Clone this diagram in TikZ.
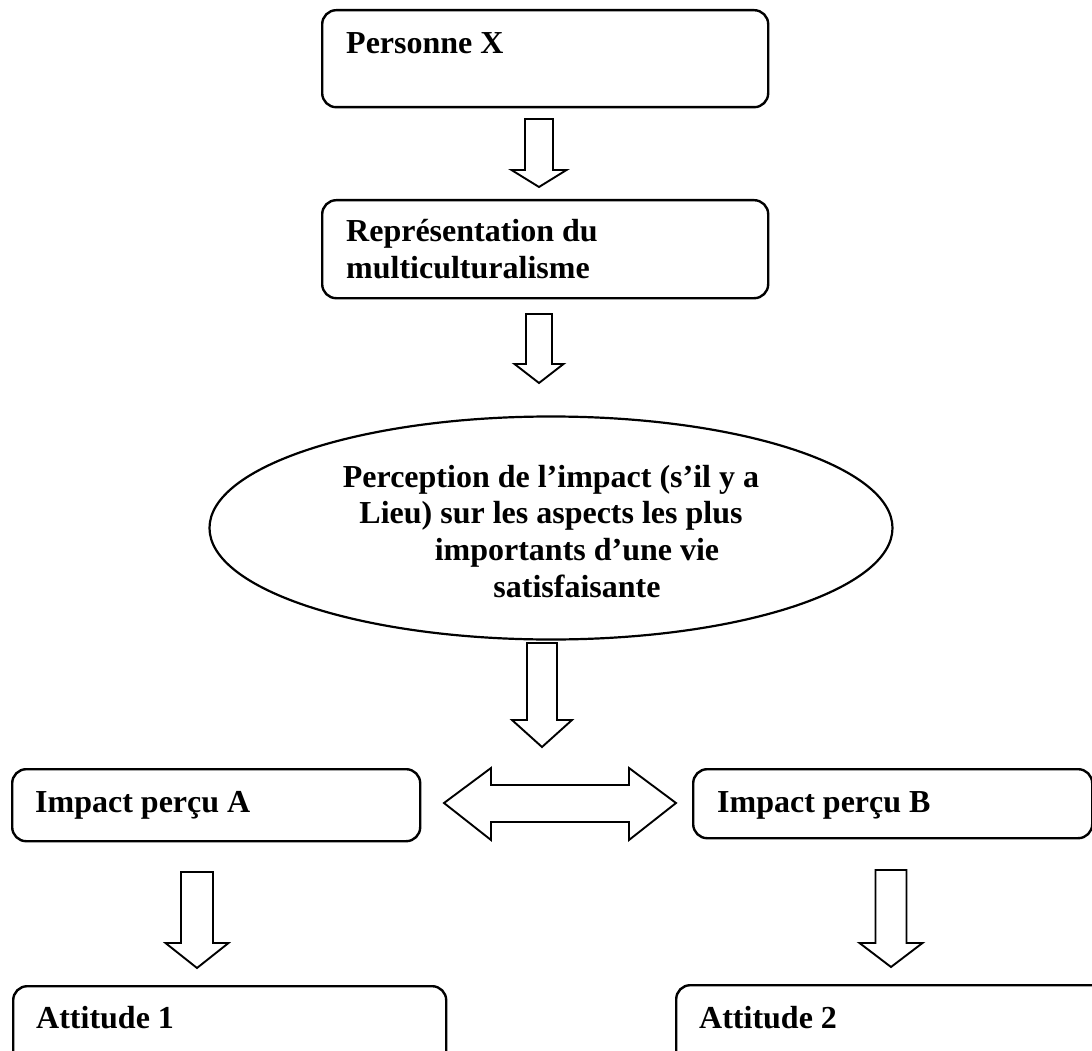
\documentclass[tikz,border=0pt]{standalone}
\usepackage{fontspec}
\setmainfont{Liberation Serif}
\usetikzlibrary{shapes.geometric}
\newcommand\blockdn[6]{%
  \draw[barrow] ({#1-#5},#2) -- ({#1+#5},#2) -- ({#1+#5},#3) -- ({#1+#6},#3)
    -- (#1,#4) -- ({#1-#6},#3) -- ({#1-#5},#3) -- cycle;}
\begin{document}
\begin{tikzpicture}[x=1pt,y=-1pt,
  box/.style={draw, line width=2.4pt, rounded corners=14pt, inner sep=0pt, anchor=north west},
  oval/.style={draw, ellipse, line width=2.2pt, inner sep=0pt},
  txt/.style={inner sep=0pt, font=\bfseries\fontsize{32}{36.6}\selectfont},
  barrow/.style={draw, line width=1.9pt, line join=miter, fill=white}]
\useasboundingbox (0,0) rectangle (1092,1051);
\clip (0,0) rectangle (1092,1051);
\fill[white] (0,0) rectangle (1092,1051);

% boxes
\node[box, minimum width=446pt, minimum height=97pt] (p1) at (321,9) {};
\node[txt, anchor=base west] (t1) at (346,54) {Personne X};

\node[box, minimum width=446pt, minimum height=98pt] (p2) at (321,199) {};
\node[txt, anchor=base west, align=left] (t2) at (346,278) {Représentation du\\multiculturalisme};

\node[oval, minimum width=683pt, minimum height=223pt] (el) at (551,528) {};
\node[txt, anchor=base, align=center] (t3) at (551,597)
  {Perception de l’impact (s’il y a\\Lieu) sur les aspects les plus\\\hspace*{52pt}importants d’une vie\\\hspace*{52pt}satisfaisante};

\node[box, minimum width=408pt, minimum height=72pt] (pa) at (11,768) {};
\node[txt, anchor=base west] (ta) at (35,812) {Impact perçu A};

\node[box, minimum width=399pt, minimum height=69pt] (pb) at (692,768) {};
\node[txt, anchor=base west] (tb) at (717,812) {Impact perçu B};

\node[box, minimum width=433pt, minimum height=110pt] (a1) at (12,985) {};
\node[txt, anchor=base west] (ta1) at (36,1028) {Attitude 1};

\node[box, minimum width=430pt, minimum height=110pt] (a2) at (675,984) {};
\node[txt, anchor=base west] (ta2) at (699,1028) {Attitude 2};

% block arrows
\blockdn{539}{119}{170}{187}{14}{27.5}
\blockdn{539}{314}{364}{383}{13}{24.5}
\blockdn{542}{643}{720}{747}{15}{30}
\blockdn{197}{872}{943}{968}{16}{31.5}
\blockdn{891}{870}{943}{967}{15.5}{31.5}

% double arrow
\draw[barrow] (444,803) -- (491,768) -- (491,785) -- (629,785) -- (629,768)
  -- (676,803) -- (629,840) -- (629,822) -- (491,822) -- (491,840) -- cycle;
\end{tikzpicture}
\end{document}
